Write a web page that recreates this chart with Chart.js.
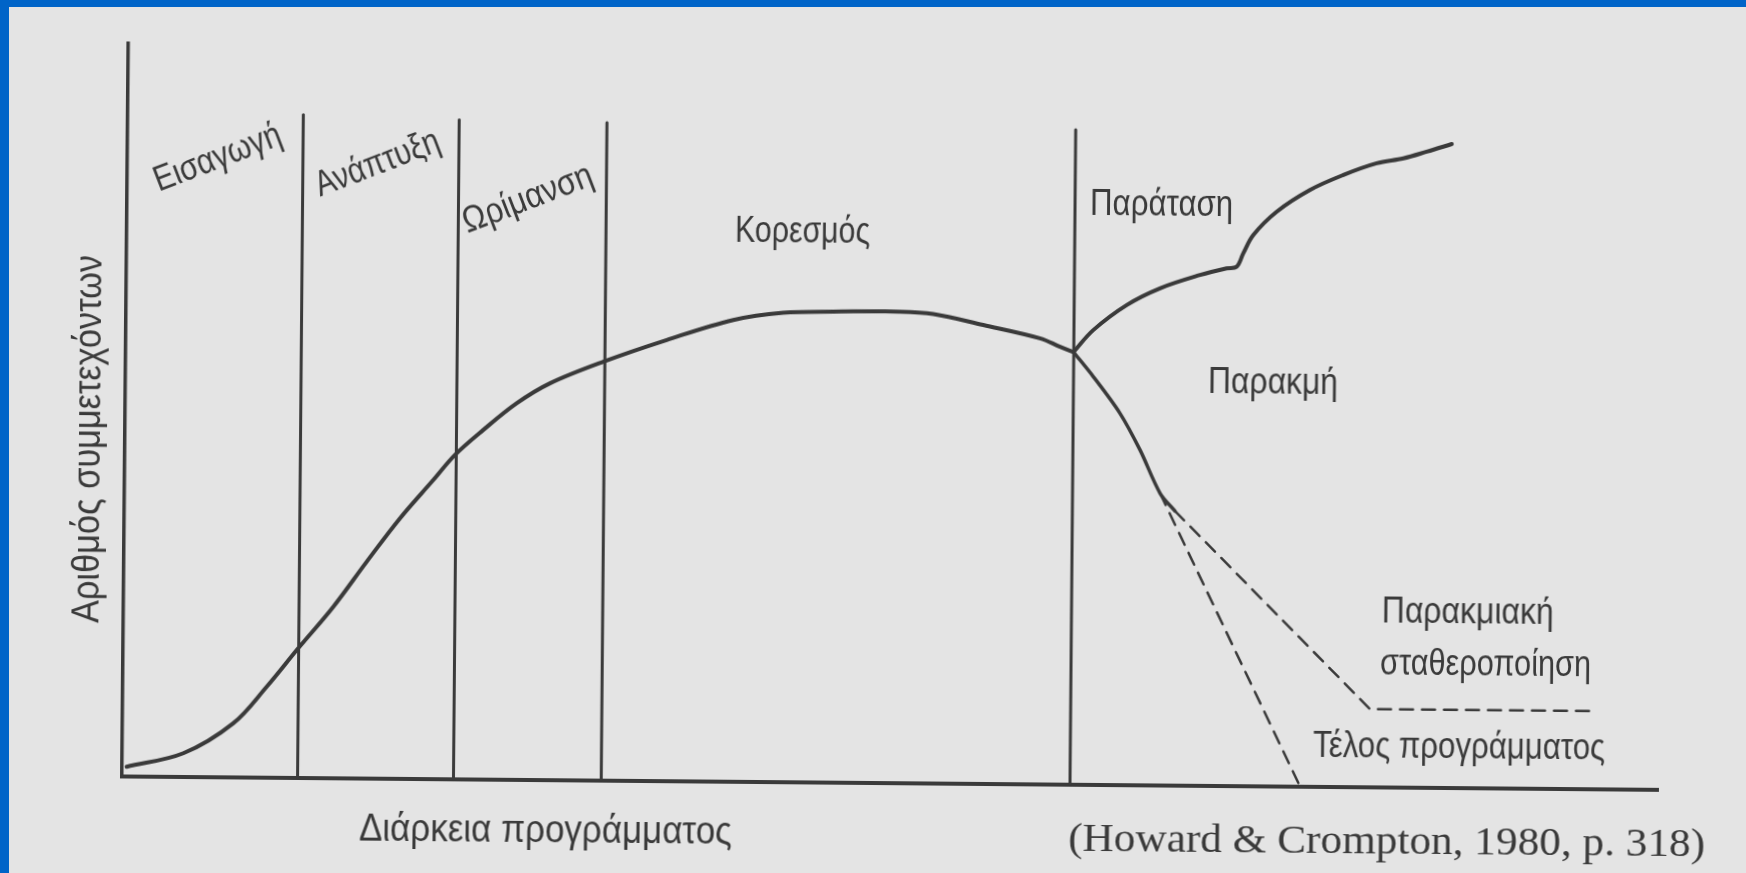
<!DOCTYPE html>
<html>
<head>
<meta charset="utf-8">
<script src="https://cdn.jsdelivr.net/npm/chart.js@4.4.0/dist/chart.umd.min.js"></script>
<style>
html, body { margin: 0; padding: 0; width: 1746px; height: 873px; overflow: hidden; background: #e4e4e4; }
#chart { position: absolute; left: 0; top: 0; transform: rotate(0.5deg); transform-origin: 873px 436.5px; }
.edge { position: absolute; background: #0064c8; }
</style>
</head>
<body>
<canvas id="chart" width="1746" height="873"></canvas>
<div class="edge" style="left:0;top:0;width:1746px;height:7px"></div>
<div class="edge" style="left:0;top:0;width:9px;height:873px"></div>
<script>
'use strict';

// [ stage boundaries ] x of each vertical line and how high it goes
var stageX = [11.43, 21.58, 31.2, 61.72];
var stageTop = [90.4, 89.9, 89.7, 89.3];

// [ growth -> saturation ] main curve up to the fork
var growthX = [0.3, 3.98, 7.21, 9.37, 11.4, 13.66, 15.81, 17.95, 20.1, 21.49, 23.32, 25.48, 27.64, 31.09, 35.21, 39.54, 42.79, 46.04, 50.38, 52.55, 55.81, 59.51, 60.82, 61.7];
var growthY = [1.27, 3.17, 7.31, 12.35, 17.63, 23.34, 29.52, 35.48, 40.75, 44.19, 47.63, 51.31, 54.08, 57.08, 60.12, 62.93, 63.98, 64.19, 64.26, 63.98, 62.55, 60.8, 59.67, 58.96];

// [ prolongation ] upper branch
var extendX = [61.7, 62.98, 65.14, 67.3, 69.9, 71.63, 72.28, 72.7, 73.34, 74.85, 77.0, 79.17, 81.33, 83.07, 84.58, 86.21];
var extendY = [58.96, 61.99, 65.44, 67.76, 69.62, 70.57, 70.8, 72.63, 75.14, 78.35, 81.35, 83.44, 85.07, 85.78, 86.71, 87.79];

// [ decline ] lower branch, solid part
var declineX = [61.7, 63.01, 64.76, 66.09, 67.42, 68.4];
var declineY = [58.96, 55.62, 50.67, 45.68, 39.8, 37.4];

// [ dashed outcomes ]
var endX = [67.42, 76.69];
var endY = [39.8, 0];
var stableX = [68.4, 81.21, 95.92];
var stableY = [37.4, 10.6, 10.6];

var ink = '#3a3a3a';
var sans = '"Liberation Sans Narrow", "Liberation Sans", sans-serif';
var serif = '"Liberation Serif", serif';

// text notes: anchor is the left end of the baseline, in chart units
var notes = [
    { text: 'Εισαγωγή', x: 2.06, y: 79.75, angle: 21.5, width: 134, size: 36, font: sans },
    { text: 'Ανάπτυξη', x: 12.56, y: 79.26, angle: 21.5, width: 131, size: 36, font: sans },
    { text: 'Ωρίμανση', x: 22.19, y: 74.45, angle: 21.5, width: 137, size: 36, font: sans },
    { text: 'Κορεσμός', x: 39.6, y: 73.57, angle: 0, width: 135, size: 36, font: sans },
    { text: 'Παράταση', x: 62.7, y: 77.68, angle: 0, width: 143, size: 36, font: sans },
    { text: 'Παρακμή', x: 70.48, y: 53.53, angle: 0, width: 130, size: 36, font: sans },
    { text: 'Παρακμιακή', x: 81.92, y: 22.5, angle: 0, width: 172, size: 36, font: sans },
    { text: 'σταθεροποίηση', x: 81.84, y: 15.4, angle: 0, width: 211, size: 36, font: sans },
    { text: 'Τέλος προγράμματος', x: 77.53, y: 4.0, angle: 0, width: 292, size: 36, font: sans },
    { text: 'Διάρκεια προγράμματος', x: 15.46, y: -8.46, angle: 0, width: 373, size: 39, font: sans },
    { text: 'Αριθμός συμμετεχόντων', x: -1.65, y: 20.83, angle: 90, width: 368, size: 39, font: sans },
    { text: '(Howard & Crompton, 1980, p. 318)', x: 61.63, y: -9.11, angle: 0, width: 637, size: 41, font: serif }
];

function pts(xs, ys) {
    return xs.map(function(x, i) { return { x: x, y: ys[i] }; });
}

function curve(data, width, tension, dash) {
    return {
        data: data,
        showLine: true,
        borderColor: ink,
        borderWidth: width,
        borderDash: dash || [],
        borderCapStyle: 'round',
        pointRadius: 0,
        tension: tension,
        clip: false
    };
}

var datasets = [];
stageX.forEach(function(x, i) {
    datasets.push(curve([{ x: x, y: 0 }, { x: x, y: stageTop[i] }], 3, 0));
});
datasets.push(curve(pts(growthX, growthY), 4, 0.35));
datasets.push(curve(pts(extendX, extendY), 4, 0.35));
datasets.push(curve(pts(declineX, declineY), 3.5, 0.3));
datasets.push(curve(pts(endX, endY), 2.5, 0, [13, 9]));
datasets.push(curve(pts(stableX, stableY), 2.5, 0, [13, 9]));

var notesPlugin = {
    id: 'notes',
    afterDatasetsDraw: function(chart) {
        var ctx = chart.ctx;
        var sx = chart.scales.x, sy = chart.scales.y;
        notes.forEach(function(n) {
            ctx.save();
            ctx.font = n.size + 'px ' + n.font;
            ctx.fillStyle = ink;
            ctx.textAlign = 'left';
            ctx.textBaseline = 'alphabetic';
            ctx.translate(sx.getPixelForValue(n.x), sy.getPixelForValue(n.y));
            ctx.rotate(-n.angle * Math.PI / 180);
            ctx.scale(n.width / ctx.measureText(n.text).width, 1);
            ctx.fillText(n.text, 0, 0);
            ctx.restore();
        });
    }
};

var axis = function(width) {
    return {
        type: 'linear',
        min: 0,
        max: 100,
        ticks: { display: false },
        grid: { display: false, drawTicks: false },
        border: { display: true, color: ink, width: width },
        afterFit: function(s) { if (s.isHorizontal()) { s.height = 0; } else { s.width = 0; } }
    };
};

var myChart = new Chart(document.getElementById('chart').getContext('2d'), {
    type: 'scatter',
    data: { datasets: datasets },
    options: {
        responsive: false,
        animation: false,
        layout: { padding: { left: 125, top: 49.5, right: 85, bottom: 90.5 } },
        plugins: { legend: { display: false }, tooltip: { enabled: false } },
        scales: { x: axis(4), y: axis(3.5) }
    },
    plugins: [notesPlugin]
});
</script>
</body>
</html>
